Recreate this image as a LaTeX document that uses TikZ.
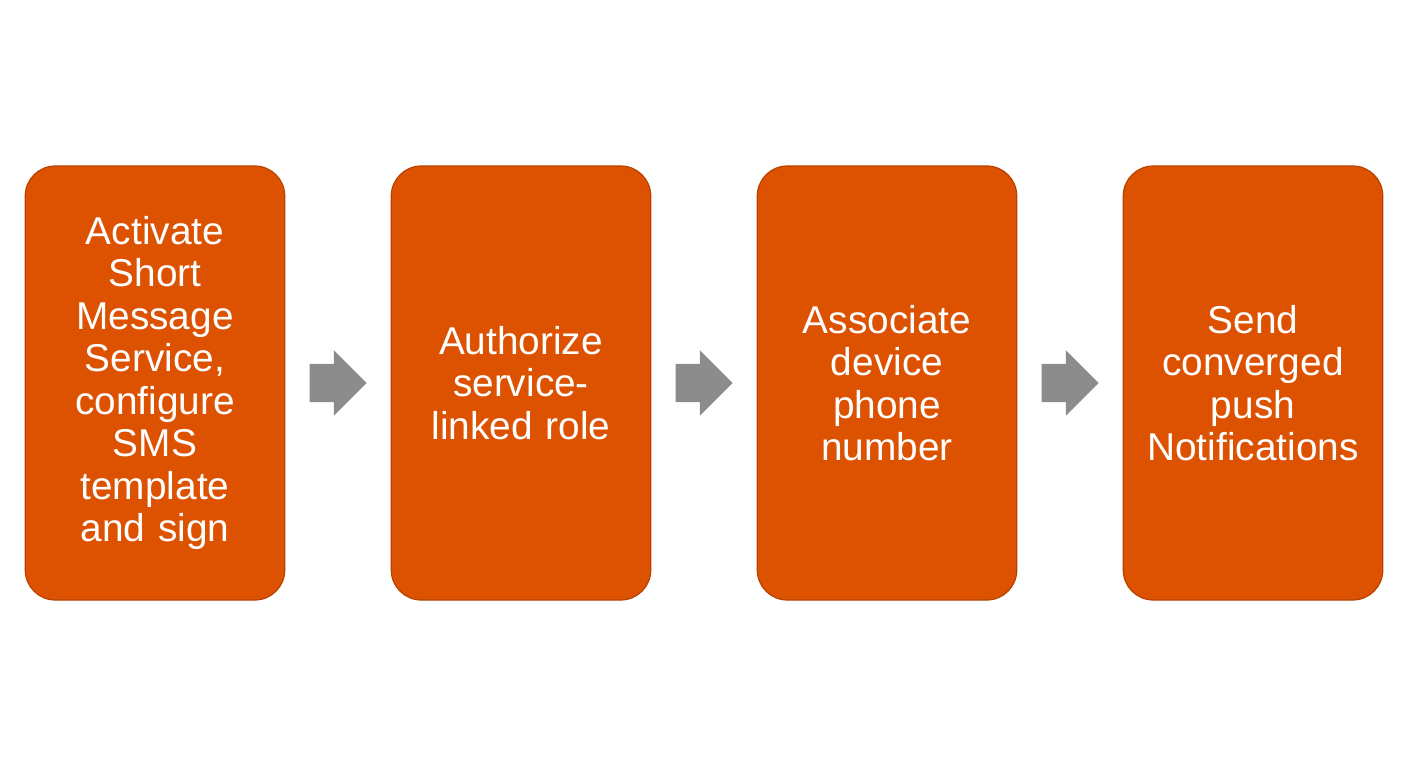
\documentclass[tikz,border=0pt]{standalone}
\usepackage{fontspec}
\setmainfont{Liberation Sans}
\usetikzlibrary{positioning,shapes.arrows}
\definecolor{orangebox}{RGB}{220,82,0}
\definecolor{orangeedge}{RGB}{184,66,0}
\definecolor{grisfleche}{RGB}{140,140,140}
\begin{document}
\begin{tikzpicture}[x=1pt,y=-1pt]
\tikzset{etape/.style={draw=orangeedge, line width=1.2pt, fill=orangebox, rounded corners=30pt, minimum width=259.5pt, minimum height=434pt, text width=250pt, align=center, text=white, inner sep=0pt, outer sep=0pt, font=\fontsize{38.8}{42.5}\selectfont}}
\tikzset{fleche/.style={single arrow, fill=grisfleche, draw=none, inner sep=0pt, outer sep=0pt, text height=19pt, text depth=19pt, minimum height=57pt, single arrow head extend=13.5pt, single arrow head indent=0pt}}
\useasboundingbox (0,0) rectangle (1408,768);
\node[etape] (B1) at (155,383) {Activate\\Short\\Message\\Service,\\configure\\SMS\\template\\and sign};
\node[fleche, right=24.75pt of B1] (F1) {};
\node[etape, right=24.75pt of F1] (B2) {Authorize\\service-\\linked role};
\node[fleche, right=24.75pt of B2] (F2) {};
\node[etape, right=24.75pt of F2] (B3) {Associate\\device\\phone\\number};
\node[fleche, right=24.75pt of B3] (F3) {};
\node[etape, right=24.75pt of F3] (B4) {Send\\converged\\push\\Notifications};
\end{tikzpicture}
\end{document}
